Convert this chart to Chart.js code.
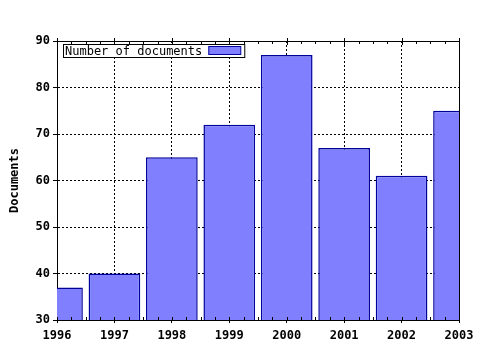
<!DOCTYPE html>
<html><head><meta charset="utf-8">
<script src="https://cdn.jsdelivr.net/npm/chart.js@4"></script>
<style>html,body{margin:0;padding:0;background:#fff}#wrap{width:480px;height:350px}</style>
</head><body><div id="wrap"><canvas id="c" width="480" height="350"></canvas></div>
<script>
const years = [1996, 1997, 1998, 1999, 2000, 2001, 2002, 2003];
const documents = [37, 40, 65, 72, 87, 67, 61, 75];
const seriesLabel = "Number of documents";
const yTitle = "Documents";
const yMin = 30, yMax = 90, yStep = 10;

const FONT = "'DejaVu Sans Mono', 'Liberation Mono', monospace";

const framePlugin = {
  id: 'frame',
  afterDatasetsDraw(chart) {
    const {ctx, chartArea: a, scales} = chart;
    ctx.save();
    ctx.strokeStyle = '#000';
    ctx.lineWidth = 1;
    ctx.beginPath();
    ctx.moveTo(a.left, a.top + 0.5); ctx.lineTo(a.right + 0.5, a.top + 0.5);
    ctx.lineTo(a.right + 0.5, a.bottom);
    ctx.stroke();
    const xs = scales.x;
    ctx.beginPath();
    for (let v = years[0]; v <= years[years.length - 1] + 1e-9; v += 0.25) {
      const px = Math.round(xs.getPixelForValue(v)) + 0.5;
      const major = Math.abs(v - Math.round(v)) < 1e-6;
      ctx.moveTo(px, a.bottom); ctx.lineTo(px, a.bottom - 3);
      if (major) { ctx.moveTo(px, a.top - 3); ctx.lineTo(px, a.top + 4); }
      else { ctx.moveTo(px, a.top); ctx.lineTo(px, a.top + 3); }
    }
    ctx.stroke();
    const ds = chart.data.datasets[0];
    ctx.font = "12px " + FONT;
    const tw = ctx.measureText(ds.label).width;
    const bx = a.left + 6.5, by = a.top + 3.5, bh = 13, sw = 32;
    const bw = tw + sw + 12;
    ctx.fillStyle = '#fff';
    ctx.fillRect(bx, by, bw, bh);
    ctx.strokeRect(bx, by, bw, bh);
    ctx.fillStyle = '#000';
    ctx.textBaseline = 'middle';
    ctx.fillText(ds.label, bx + 1.5, by + bh / 2 + 0.5);
    ctx.fillStyle = ds.backgroundColor;
    ctx.strokeStyle = ds.borderColor;
    ctx.fillRect(bx + tw + 8, by + 2, sw, bh - 5);
    ctx.strokeRect(bx + tw + 8, by + 2, sw, bh - 5);
    ctx.restore();
  }
};

new Chart(document.getElementById('c'), {
  type: 'bar',
  data: {
    datasets: [{
      label: seriesLabel,
      data: years.map((y, i) => ({x: y, y: documents[i]})),
      backgroundColor: '#8080ff',
      borderColor: '#00009a',
      borderWidth: 1.5,
      borderSkipped: false,
      barPercentage: 0.9,
      categoryPercentage: 1,
      clip: 0
    }]
  },
  options: {
    responsive: false,
    animation: false,
    layout: {padding: {left: 0, top: 41, right: 21, bottom: 0}},
    plugins: {legend: {display: false}, tooltip: {enabled: false}},
    scales: {
      x: {
        type: 'linear',
        offset: false,
        min: years[0], max: years[years.length - 1],
        afterFit(s) { s.height = 30; },
        ticks: {stepSize: 1, color: '#000', padding: 6, maxRotation: 0,
          font: {family: FONT, size: 12, weight: 'bold'},
          callback: v => String(v)},
        grid: {color: '#000', lineWidth: 1, tickLength: 3, offset: false},
        border: {display: true, color: '#000', dash: [2, 2]}
      },
      y: {
        min: yMin, max: yMax,
        afterFit(s) { s.width = 57; },
        ticks: {stepSize: yStep, color: '#000', padding: 3,
          font: {family: FONT, size: 12, weight: 'bold'}},
        grid: {color: '#000', lineWidth: 1, tickLength: 4},
        border: {display: true, color: '#000', dash: [2, 2]},
        title: {display: true, text: yTitle, color: '#000', padding: {top: 8, bottom: 0},
          font: {family: FONT, size: 12, weight: 'bold'}}
      }
    }
  },
  plugins: [framePlugin]
});
</script></body></html>
